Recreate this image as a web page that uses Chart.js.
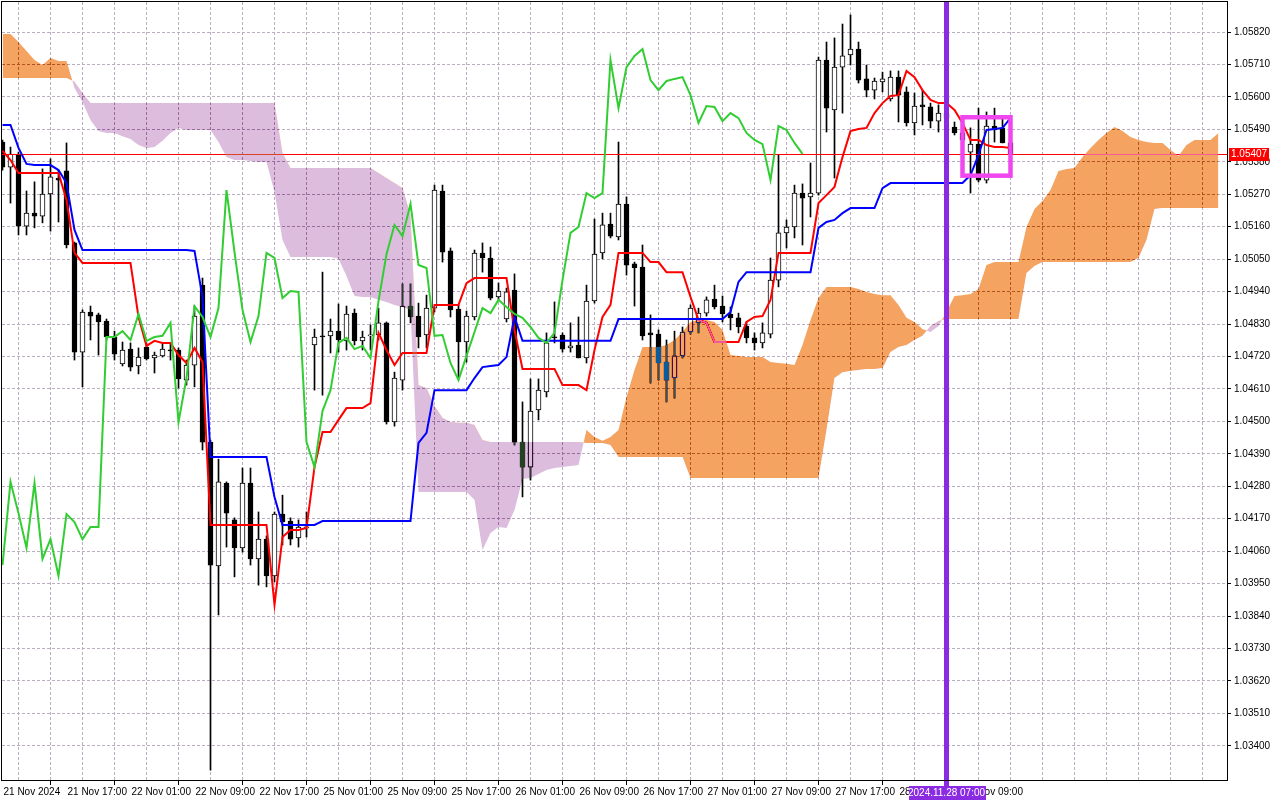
<!DOCTYPE html>
<html>
<head>
<meta charset="utf-8">
<script src="https://cdn.jsdelivr.net/npm/chart.js@4.4.1/dist/chart.umd.min.js"></script>
<style>
  html, body { margin: 0; padding: 0; background: #fff; }
  #chart { display: block; }
</style>
</head>
<body>
<canvas id="chart" width="1280" height="800"></canvas>
<script>
// ---- EURUSD H1, Ichimoku (9/26/52) ----

// candles, one per hour bar (bar 0 = 21 Nov 09:00)
const opens = [
  1.05447, 1.05362, 1.05406, 1.05162, 1.05206, 1.05196, 1.05271, 1.05325, 1.05349, 1.05105,
  1.04735, 1.04871, 1.04861, 1.04840, 1.04786, 1.04695, 1.04745, 1.04688, 1.04752, 1.04715,
  1.04722, 1.04742, 1.04742, 1.04640, 1.04691, 1.04962, 1.04430, 1.04010, 1.04291, 1.04166,
  1.04071, 1.04291, 1.04034, 1.04101, 1.03976, 1.04186, 1.04162, 1.04105, 1.04139, 1.04759,
  1.04790, 1.04790, 1.04806, 1.04773, 1.04867, 1.04773, 1.04790, 1.04793, 1.04834, 1.04498,
  1.04640, 1.04891, 1.04857, 1.04793, 1.04884, 1.05281, 1.05078, 1.04881, 1.04769, 1.04854,
  1.05071, 1.05054, 1.04922, 1.04847, 1.04945, 1.04430, 1.04345, 1.04539, 1.04600, 1.04786,
  1.04793, 1.04749, 1.04759, 1.04715, 1.04908, 1.05071, 1.05169, 1.05125, 1.05237, 1.05034,
  1.05023, 1.04800, 1.04796, 1.04701, 1.04647, 1.04722, 1.04803, 1.04834, 1.04867, 1.04915,
  1.04891, 1.04864, 1.04851, 1.04823, 1.04783, 1.04766, 1.04796, 1.04979, 1.05139, 1.05159,
  1.05274, 1.05261, 1.05274, 1.05725, 1.05556, 1.05701, 1.05742, 1.05762, 1.05661, 1.05623,
  1.05651, 1.05593, 1.05667, 1.05617, 1.05512, 1.05573, 1.05566, 1.05518, 1.05545, 1.05498,
  1.05478, 1.05413, 1.05440, 1.05318, 1.05501, 1.05495, 1.05444
];
const highs = [
  1.05454, 1.05430, 1.05413, 1.05281, 1.05312, 1.05356, 1.05390, 1.05352, 1.05444, 1.05108,
  1.04878, 1.04891, 1.04867, 1.04847, 1.04806, 1.04769, 1.04766, 1.04749, 1.04766, 1.04735,
  1.04766, 1.04762, 1.04749, 1.04708, 1.04891, 1.04986, 1.04437, 1.04372, 1.04295, 1.04173,
  1.04342, 1.04342, 1.04193, 1.04112, 1.04193, 1.04250, 1.04173, 1.04166, 1.04193, 1.04813,
  1.05006, 1.04847, 1.04898, 1.04891, 1.04881, 1.04806, 1.04827, 1.04884, 1.04837, 1.04667,
  1.04966, 1.04966, 1.04901, 1.04928, 1.05301, 1.05301, 1.05088, 1.04895, 1.04874, 1.05081,
  1.05105, 1.05091, 1.04969, 1.04952, 1.05000, 1.04566, 1.04644, 1.04644, 1.04800, 1.04905,
  1.04800, 1.04834, 1.04854, 1.04962, 1.05186, 1.05206, 1.05206, 1.05447, 1.05261, 1.05040,
  1.05098, 1.04861, 1.04810, 1.04776, 1.04806, 1.04820, 1.04895, 1.04884, 1.04922, 1.04962,
  1.04925, 1.04888, 1.04867, 1.04837, 1.04800, 1.04834, 1.05054, 1.05403, 1.05183, 1.05301,
  1.05305, 1.05376, 1.05735, 1.05786, 1.05800, 1.05847, 1.05878, 1.05786, 1.05708, 1.05664,
  1.05684, 1.05688, 1.05688, 1.05634, 1.05613, 1.05623, 1.05579, 1.05573, 1.05556, 1.05515,
  1.05505, 1.05495, 1.05562, 1.05549, 1.05562, 1.05528, 1.05454
];
const lows = [
  1.05352, 1.05240, 1.05132, 1.05132, 1.05156, 1.05173, 1.05145, 1.05176, 1.05088, 1.04708,
  1.04617, 1.04776, 1.04725, 1.04776, 1.04708, 1.04688, 1.04671, 1.04661, 1.04708, 1.04664,
  1.04718, 1.04708, 1.04613, 1.04623, 1.04617, 1.04403, 1.03318, 1.03844, 1.04074, 1.03973,
  1.04057, 1.04013, 1.03945, 1.03939, 1.03956, 1.04081, 1.04081, 1.04074, 1.04108, 1.04606,
  1.04589, 1.04732, 1.04735, 1.04742, 1.04759, 1.04742, 1.04742, 1.04776, 1.04491, 1.04484,
  1.04606, 1.04834, 1.04749, 1.04749, 1.04871, 1.05040, 1.04854, 1.04650, 1.04701, 1.04844,
  1.05006, 1.04912, 1.04912, 1.04837, 1.04420, 1.04244, 1.04301, 1.04505, 1.04583, 1.04766,
  1.04735, 1.04735, 1.04715, 1.04698, 1.04901, 1.05051, 1.05122, 1.05115, 1.04996, 1.04891,
  1.04776, 1.04630, 1.04640, 1.04566, 1.04579, 1.04715, 1.04796, 1.04800, 1.04857, 1.04881,
  1.04837, 1.04810, 1.04800, 1.04766, 1.04742, 1.04749, 1.04783, 1.04956, 1.05088, 1.05122,
  1.05098, 1.05193, 1.05267, 1.05481, 1.05325, 1.05545, 1.05708, 1.05647, 1.05600, 1.05593,
  1.05617, 1.05586, 1.05515, 1.05501, 1.05471, 1.05505, 1.05495, 1.05481, 1.05515, 1.05471,
  1.05420, 1.05274, 1.05312, 1.05308, 1.05447, 1.05444, 1.05400
];
const closes = [
  1.05362, 1.05406, 1.05162, 1.05206, 1.05196, 1.05271, 1.05329, 1.05318, 1.05098, 1.04735,
  1.04871, 1.04857, 1.04837, 1.04786, 1.04728, 1.04742, 1.04684, 1.04718, 1.04712, 1.04725,
  1.04745, 1.04739, 1.04644, 1.04691, 1.04857, 1.04430, 1.04013, 1.04295, 1.04189, 1.04071,
  1.04291, 1.04034, 1.04101, 1.03976, 1.04186, 1.04159, 1.04101, 1.04142, 1.04142, 1.04786,
  1.04786, 1.04806, 1.04776, 1.04864, 1.04773, 1.04786, 1.04790, 1.04834, 1.04498, 1.04647,
  1.04891, 1.04854, 1.04786, 1.04884, 1.05284, 1.05074, 1.04878, 1.04769, 1.04857, 1.05071,
  1.05054, 1.04918, 1.04942, 1.04939, 1.04430, 1.04345, 1.04535, 1.04606, 1.04766, 1.04783,
  1.04745, 1.04756, 1.04715, 1.04908, 1.05067, 1.05166, 1.05128, 1.05237, 1.05030, 1.05020,
  1.04790, 1.04793, 1.04698, 1.04640, 1.04722, 1.04803, 1.04884, 1.04867, 1.04912, 1.04888,
  1.04864, 1.04851, 1.04820, 1.04783, 1.04766, 1.04800, 1.04979, 1.05139, 1.05159, 1.05274,
  1.05257, 1.05274, 1.05725, 1.05562, 1.05701, 1.05739, 1.05762, 1.05657, 1.05623, 1.05654,
  1.05661, 1.05667, 1.05606, 1.05512, 1.05569, 1.05566, 1.05518, 1.05545, 1.05528, 1.05478,
  1.05454, 1.05440, 1.05318, 1.05501, 1.05488, 1.05444, 1.05407
];

// Tenkan-sen (red) and Kijun-sen (blue), one value per candle
const tenkan = [
  1.05417, 1.05386, 1.05342, 1.05342, 1.05342, 1.05342, 1.05342, 1.05342, 1.05251, 1.05071,
  1.05037, 1.05037, 1.05037, 1.05037, 1.05037, 1.05037, 1.05037, 1.04854, 1.04756, 1.04773,
  1.04766, 1.04766, 1.04725, 1.04698, 1.04749, 1.04701, 1.04149, 1.04149, 1.04149, 1.04149,
  1.04149, 1.04149, 1.04149, 1.04149, 1.03878, 1.04108, 1.04132, 1.04132, 1.04139, 1.04345,
  1.04464, 1.04464, 1.04505, 1.04545, 1.04545, 1.04545, 1.04562, 1.04800, 1.04742, 1.04691,
  1.04732, 1.04732, 1.04732, 1.04732, 1.04895, 1.04895, 1.04895, 1.04895, 1.04969, 1.04986,
  1.04986, 1.04986, 1.04986, 1.04986, 1.04810, 1.04678, 1.04678, 1.04678, 1.04678, 1.04678,
  1.04623, 1.04623, 1.04623, 1.04606, 1.04742, 1.04854, 1.04895, 1.05071, 1.05071, 1.05071,
  1.05071, 1.05040, 1.05040, 1.05006, 1.05006, 1.05006, 1.04922, 1.04844, 1.04834, 1.04769,
  1.04769, 1.04769, 1.04769, 1.04837, 1.04854, 1.04857, 1.04912, 1.05071, 1.05071, 1.05071,
  1.05071, 1.05071, 1.05240, 1.05267, 1.05295, 1.05396, 1.05484, 1.05491, 1.05495, 1.05545,
  1.05579, 1.05603, 1.05606, 1.05688, 1.05667, 1.05623, 1.05590, 1.05579, 1.05579, 1.05556,
  1.05512, 1.05454, 1.05454, 1.05437, 1.05430, 1.05430, 1.05427
];
const kijun = [
  1.05505, 1.05505, 1.05427, 1.05373, 1.05369, 1.05369, 1.05369, 1.05352, 1.05308, 1.05149,
  1.05081, 1.05081, 1.05081, 1.05081, 1.05081, 1.05081, 1.05081, 1.05081, 1.05081, 1.05081,
  1.05081, 1.05081, 1.05081, 1.05081, 1.05078, 1.04922, 1.04379, 1.04379, 1.04379, 1.04379,
  1.04379, 1.04379, 1.04379, 1.04379, 1.04244, 1.04149, 1.04149, 1.04149, 1.04149, 1.04149,
  1.04162, 1.04162, 1.04162, 1.04162, 1.04162, 1.04162, 1.04162, 1.04162, 1.04162, 1.04162,
  1.04162, 1.04162, 1.04427, 1.04461, 1.04606, 1.04606, 1.04606, 1.04606, 1.04606, 1.04647,
  1.04684, 1.04688, 1.04691, 1.04718, 1.04854, 1.04773, 1.04773, 1.04773, 1.04773, 1.04773,
  1.04773, 1.04773, 1.04773, 1.04773, 1.04773, 1.04773, 1.04773, 1.04847, 1.04847, 1.04847,
  1.04847, 1.04847, 1.04847, 1.04847, 1.04847, 1.04847, 1.04847, 1.04847, 1.04847, 1.04847,
  1.04847, 1.04871, 1.04973, 1.05006, 1.05006, 1.05006, 1.05006, 1.05006, 1.05006, 1.05006,
  1.05006, 1.05006, 1.05156, 1.05176, 1.05183, 1.05206, 1.05223, 1.05223, 1.05223, 1.05223,
  1.05291, 1.05308, 1.05308, 1.05308, 1.05308, 1.05308, 1.05308, 1.05308, 1.05308, 1.05308,
  1.05308, 1.05335, 1.05403, 1.05488, 1.05491, 1.05495, 1.05528
];

// Senkou Span A / B, already shifted 26 bars ahead (bars 0..152)
const spanA = [
  1.05813, 1.05813, 1.05786, 1.05756, 1.05725, 1.05708, 1.05732, 1.05722, 1.05722, 1.05630,
  1.05583, 1.05522, 1.05484, 1.05478, 1.05478, 1.05467, 1.05457, 1.05437, 1.05427, 1.05430,
  1.05451, 1.05478, 1.05495, 1.05488, 1.05488, 1.05488, 1.05488, 1.05447, 1.05396, 1.05386,
  1.05386, 1.05383, 1.05379, 1.05379, 1.05278, 1.05115, 1.05057, 1.05057, 1.05057, 1.05057,
  1.05057, 1.05057, 1.05051, 1.04993, 1.04925, 1.04922, 1.04922, 1.04912, 1.04905, 1.04895,
  1.04888, 1.04878, 1.04261, 1.04261, 1.04261, 1.04261, 1.04261, 1.04261, 1.04261, 1.04234,
  1.04064, 1.04122, 1.04142, 1.04139, 1.04200, 1.04305, 1.04308, 1.04322, 1.04335, 1.04342,
  1.04345, 1.04349, 1.04352, 1.04471, 1.04447, 1.04434, 1.04447, 1.04471, 1.04583, 1.04674,
  1.04752, 1.04752, 1.04752, 1.04759, 1.04776, 1.04803, 1.04837, 1.04844, 1.04844, 1.04837,
  1.04810, 1.04725, 1.04722, 1.04718, 1.04718, 1.04718, 1.04701, 1.04698, 1.04695, 1.04691,
  1.04759, 1.04844, 1.04918, 1.04956, 1.04956, 1.04956, 1.04956, 1.04949, 1.04939, 1.04932,
  1.04928, 1.04928, 1.04895, 1.04851, 1.04837, 1.04813, 1.04803, 1.04823, 1.04871, 1.04925,
  1.04928, 1.04932, 1.04949, 1.05030, 1.05040, 1.05040, 1.05040, 1.05040, 1.05159, 1.05220,
  1.05247, 1.05284, 1.05349, 1.05356, 1.05359, 1.05396, 1.05427, 1.05454, 1.05478, 1.05498,
  1.05484, 1.05464, 1.05454, 1.05447, 1.05444, 1.05444, 1.05420, 1.05400, 1.05437, 1.05454,
  1.05454, 1.05454, 1.05478
];
const spanB = [
  1.05664, 1.05664, 1.05664, 1.05664, 1.05664, 1.05664, 1.05664, 1.05664, 1.05664, 1.05651,
  1.05613, 1.05579, 1.05579, 1.05579, 1.05579, 1.05579, 1.05579, 1.05579, 1.05579, 1.05579,
  1.05579, 1.05579, 1.05579, 1.05579, 1.05579, 1.05579, 1.05579, 1.05579, 1.05579, 1.05579,
  1.05579, 1.05579, 1.05579, 1.05579, 1.05579, 1.05410, 1.05359, 1.05359, 1.05359, 1.05359,
  1.05359, 1.05359, 1.05359, 1.05359, 1.05359, 1.05359, 1.05359, 1.05342, 1.05325, 1.05308,
  1.05291, 1.05200, 1.04623, 1.04613, 1.04552, 1.04512, 1.04498, 1.04495, 1.04495, 1.04488,
  1.04437, 1.04430, 1.04430, 1.04430, 1.04430, 1.04430, 1.04430, 1.04430, 1.04430, 1.04430,
  1.04430, 1.04430, 1.04430, 1.04427, 1.04427, 1.04427, 1.04420, 1.04379, 1.04379, 1.04379,
  1.04379, 1.04379, 1.04379, 1.04379, 1.04379, 1.04379, 1.04308, 1.04308, 1.04308, 1.04308,
  1.04308, 1.04308, 1.04308, 1.04308, 1.04308, 1.04308, 1.04308, 1.04308, 1.04308, 1.04308,
  1.04308, 1.04308, 1.04308, 1.04471, 1.04647, 1.04667, 1.04671, 1.04674, 1.04678, 1.04678,
  1.04681, 1.04735, 1.04752, 1.04759, 1.04776, 1.04790, 1.04823, 1.04840, 1.04847, 1.04847,
  1.04847, 1.04847, 1.04847, 1.04847, 1.04847, 1.04847, 1.04847, 1.04847, 1.05003, 1.05027,
  1.05040, 1.05040, 1.05040, 1.05040, 1.05040, 1.05040, 1.05040, 1.05040, 1.05040, 1.05040,
  1.05040, 1.05040, 1.05054, 1.05115, 1.05220, 1.05223, 1.05223, 1.05223, 1.05223, 1.05223,
  1.05223, 1.05223, 1.05223
];
const chikouShift = 26;   // Chikou = close drawn 26 bars back

// axis labels
const priceTicks = [
  1.03400, 1.03510, 1.03620, 1.03730, 1.03840, 1.03950, 1.04060, 1.04170, 1.04280, 1.04390,
  1.04500, 1.04610, 1.04720, 1.04830, 1.04940, 1.05050, 1.05160, 1.05270, 1.05380, 1.05490,
  1.05600, 1.05710, 1.05820
];
const timeLabels = [
  '21 Nov 2024', '21 Nov 17:00', '22 Nov 01:00', '22 Nov 09:00', '22 Nov 17:00',
  '25 Nov 01:00', '25 Nov 09:00', '25 Nov 17:00', '26 Nov 01:00', '26 Nov 09:00',
  '26 Nov 17:00', '27 Nov 01:00', '27 Nov 09:00', '27 Nov 17:00', '28 Nov 01:00', '28 Nov 09:00'
];
const barsPerLabel = 8;

// markers
const bidPrice = 1.05407;
const cursorBar = 118;
const cursorLabel = '2024.11.28 07:00';
const boxBars = [120, 126];
const boxPrices = [1.05531, 1.05333];

// visible window
const xMin = -0.0625, xMax = 153.0625;
const yMin = 1.032844, yMax = 1.059217;

Chart.defaults.font.family = '"Liberation Sans", Arial, sans-serif';
Chart.defaults.font.size = 10;
Chart.defaults.color = '#000';

const gridColor = '#bbaec0';
const sandy = 'rgb(11,91,159)';    // drawn with 'difference' -> sandy brown on white
const thistle = 'rgb(34,66,34)';   // drawn with 'difference' -> light thistle on white

const gridBars = [];
for (let b = 0; b <= 152; b += 4) gridBars.push(b);

const bgPlugin = {
  id: 'bg',
  beforeDraw(chart) {
    const ctx = chart.ctx;
    ctx.save();
    ctx.fillStyle = '#fff';
    ctx.fillRect(0, 0, chart.width, chart.height);
    ctx.restore();
  }
};

// bid line goes under the cloud; the cloud is painted inverted like MT5 does
const blendPlugin = {
  id: 'cloudBlend',
  afterDatasetDraw(chart, args) {
    const id = chart.data.datasets[args.index].id;
    const ctx = chart.ctx;
    if (id === 'bodies') {
      const a = chart.chartArea;
      const py = Math.round(chart.scales.y.getPixelForValue(bidPrice)) + 0.5;
      ctx.save();
      ctx.strokeStyle = '#ff0000';
      ctx.lineWidth = 1;
      ctx.beginPath();
      ctx.moveTo(a.left, py);
      ctx.lineTo(a.right, py);
      ctx.stroke();
      ctx.restore();
    }
    if (id === 'spanB') { ctx.save(); ctx.globalCompositeOperation = 'difference'; }
    if (id === 'spanA') ctx.restore();
  }
};

const overlayPlugin = {
  id: 'overlay',
  afterDraw(chart) {
    const { ctx, chartArea: a, scales: { x, y } } = chart;
    ctx.save();
    ctx.beginPath();
    ctx.rect(a.left, a.top, a.right - a.left, a.bottom - a.top);
    ctx.clip();
    const bx1 = x.getPixelForValue(boxBars[0]), bx2 = x.getPixelForValue(boxBars[1]);
    const by1 = y.getPixelForValue(boxPrices[0]), by2 = y.getPixelForValue(boxPrices[1]);
    ctx.strokeStyle = '#f046f0';
    ctx.lineWidth = 4.5;
    ctx.strokeRect(bx1, by1, bx2 - bx1, by2 - by1);
    ctx.restore();

    ctx.save();
    const cx = x.getPixelForValue(cursorBar);
    ctx.fillStyle = '#8a2be2';
    ctx.fillRect(cx - 2.5, a.top, 5, a.bottom - a.top + 6);

    ctx.strokeStyle = '#000';
    ctx.lineWidth = 1;
    ctx.strokeRect(a.left - 0.5, a.top - 0.5, a.right - a.left + 1, a.bottom - a.top + 1);

    ctx.font = '10px "Liberation Sans", Arial, sans-serif';
    ctx.textBaseline = 'middle';
    const py = Math.round(y.getPixelForValue(bidPrice));
    ctx.fillStyle = '#ff0000';
    ctx.fillRect(a.right + 2, py - 6, 40, 13);
    ctx.fillStyle = '#fff';
    ctx.textAlign = 'left';
    ctx.fillText(bidPrice.toFixed(5), a.right + 4, py + 0.5);

    ctx.fillStyle = '#8a2be2';
    ctx.fillRect(Math.round(cx) - 38, a.bottom + 6, 77, 14);
    ctx.fillStyle = '#fff';
    ctx.textAlign = 'center';
    ctx.fillText(cursorLabel, cx, a.bottom + 13.5);
    ctx.restore();
  }
};

const bars = opens.map((o, i) => i);

new Chart(document.getElementById('chart'), {
  type: 'line',
  data: {
    datasets: [
      {
        id: 'wicks', type: 'bar', order: 10,
        data: bars.map(i => ({ x: i, y: [lows[i], highs[i]] })),
        backgroundColor: '#000', borderWidth: 0,
        barThickness: 1, maxBarThickness: 1, grouped: false
      },
      {
        id: 'bodies', type: 'bar', order: 9,
        data: bars.map(i => ({ x: i, y: [opens[i], closes[i]] })),
        backgroundColor: c => (c.raw && c.raw.y[1] < c.raw.y[0]) ? '#000' : '#fff',
        borderColor: '#000', borderWidth: 1, borderSkipped: false,
        barThickness: 5, maxBarThickness: 5, minBarLength: 1, grouped: false
      },
      {
        id: 'tenkan', order: 8,
        data: tenkan.map((v, i) => ({ x: i, y: v })),
        borderColor: '#ff0000', borderWidth: 2, pointRadius: 0
      },
      {
        id: 'spanA', order: 6,
        data: spanA.map((v, i) => ({ x: i, y: v })),
        borderWidth: 0, pointRadius: 0,
        fill: { target: '+1', above: sandy, below: thistle }
      },
      {
        id: 'spanB', order: 7,
        data: spanB.map((v, i) => ({ x: i, y: v })),
        borderWidth: 0, pointRadius: 0, fill: false
      },
      {
        id: 'kijun', order: 5,
        data: kijun.map((v, i) => ({ x: i, y: v })),
        borderColor: '#0000ff', borderWidth: 2, pointRadius: 0
      },
      {
        id: 'chikou', order: 4,
        data: closes.map((v, i) => ({ x: i - chikouShift, y: v })).filter(p => p.x >= 0),
        borderColor: '#32cd32', borderWidth: 2, pointRadius: 0
      }
    ]
  },
  options: {
    responsive: false,
    animation: false,
    devicePixelRatio: 1,
    events: [],
    layout: { padding: { left: 2, top: 2, right: 0, bottom: 0 } },
    plugins: {
      legend: { display: false },
      tooltip: { enabled: false },
      filler: { drawTime: 'beforeDatasetDraw', propagate: false }
    },
    scales: {
      x: {
        type: 'linear', min: xMin, max: xMax, offset: false,
        afterBuildTicks: s => { s.ticks = gridBars.map(v => ({ value: v })); },
        afterFit: s => { s.height = 20; s.paddingLeft = 0; s.paddingRight = 0; },
        grid: {
          color: gridColor, lineWidth: 1, tickLength: 5, tickWidth: 1,
          tickColor: c => (c.tick && c.tick.value % barsPerLabel === 0 &&
            c.tick.value / barsPerLabel < timeLabels.length) ? '#000' : 'rgba(0,0,0,0)'
        },
        border: { display: false, dash: [3, 2] },
        ticks: {
          autoSkip: false, maxRotation: 0, minRotation: 0, align: 'start',
          padding: 1, labelOffset: 1, color: '#000',
          callback: v => (v % barsPerLabel === 0 ? (timeLabels[v / barsPerLabel] || '') : '')
        }
      },
      y: {
        type: 'linear', position: 'right', min: yMin, max: yMax,
        afterBuildTicks: s => { s.ticks = priceTicks.map(v => ({ value: v })); },
        afterFit: s => { s.width = 53; s.paddingTop = 0; s.paddingBottom = 0; },
        grid: { color: gridColor, lineWidth: 1, tickLength: 4, tickWidth: 1, tickColor: '#000' },
        border: { display: false, dash: [3, 2] },
        ticks: { autoSkip: false, padding: 3, color: '#000', callback: v => v.toFixed(5) }
      }
    }
  },
  plugins: [bgPlugin, blendPlugin, overlayPlugin]
});
</script>
</body>
</html>
